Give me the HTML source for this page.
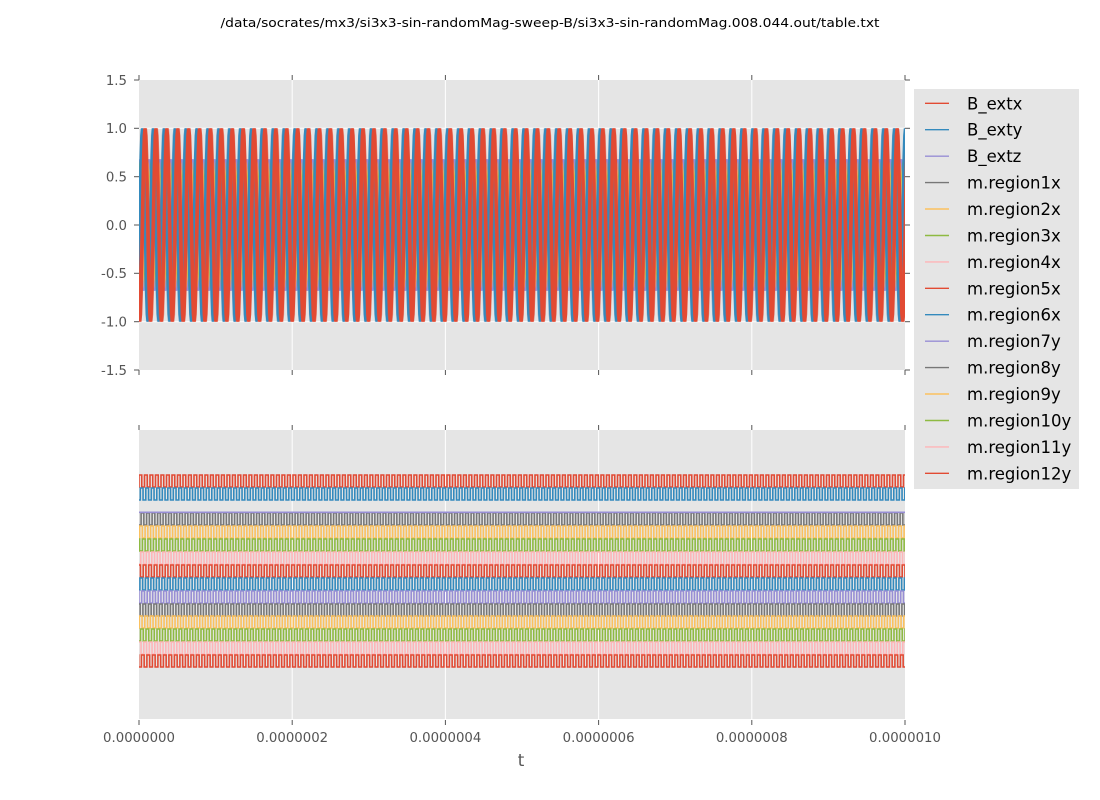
<!DOCTYPE html>
<html><head><meta charset="utf-8"><style>
html,body{margin:0;padding:0;background:#fff;}
svg{display:block;}
text{font-family:"DejaVu Sans","Liberation Sans",sans-serif;}
</style></head><body>
<svg width="1100" height="800" viewBox="0 0 1100 800" xmlns="http://www.w3.org/2000/svg">
<defs>
<path id="s1" d="M-10.9,225l.681,-37 .681,-31.4 .681,-20.9 .681,-7.4 .681,7.4 .681,20.9 .681,31.4 .681,37 .681,37 .681,31.4 .681,20.9 .681,7.4 .681,-7.4 .681,-20.9 .681,-31.4 .681,-37 .681,-37 .681,-31.4 .681,-20.9 .681,-7.4 .681,7.4 .681,20.9 .681,31.4 .681,37 .681,37 .681,31.4 .681,20.9 .681,7.4 .681,-7.4 .681,-20.9 .681,-31.4 .681,-37 .681,-37 .681,-31.4 .681,-20.9 .681,-7.4 .681,7.4 .681,20.9 .681,31.4 .681,37 .681,37 .681,31.4 .681,20.9 .681,7.4 .681,-7.4 .681,-20.9 .681,-31.4 .681,-37" fill="none"/>
<path id="s2" d="M-10.9,225l.681,-25.2 .681,-21.4 .681,-14.2 .681,-5 .681,5 .681,14.2 .681,21.4 .681,25.2 .681,25.2 .681,21.4 .681,14.2 .681,5 .681,-5 .681,-14.2 .681,-21.4 .681,-25.2 .681,-25.2 .681,-21.4 .681,-14.2 .681,-5 .681,5 .681,14.2 .681,21.4 .681,25.2 .681,25.2 .681,21.4 .681,14.2 .681,5 .681,-5 .681,-14.2 .681,-21.4 .681,-25.2 .681,-25.2 .681,-21.4 .681,-14.2 .681,-5 .681,5 .681,14.2 .681,21.4 .681,25.2 .681,25.2 .681,21.4 .681,14.2 .681,5 .681,-5 .681,-14.2 .681,-21.4 .681,-25.2" fill="none"/>
<pattern id="top" patternUnits="userSpaceOnUse" x="139" y="0" width="10.9" height="800">
<g fill="none" stroke-width="1.8">
<use href="#s2" stroke="#777777" transform="translate(1.1,0)"/>
<use href="#s2" stroke="#FBC15E" transform="translate(2.2,0)"/>
<use href="#s2" stroke="#8EBA42" transform="translate(4.4,0)"/>
<use href="#s2" stroke="#FFB5B8" transform="translate(6.5,0)"/>
<use href="#s2" stroke="#988ED5" transform="translate(7.6,0)"/>
<use href="#s2" stroke="#8EBA42" transform="translate(9.8,0)"/>
<use href="#s2" stroke="#FBC15E" transform="translate(5.5,0)"/>
<use href="#s1" stroke="#348ABD" stroke-width="1.9" transform="translate(0,0)"/>
<use href="#s1" stroke="#348ABD" stroke-width="1.9" transform="translate(0.8,0)"/>
<use href="#s1" stroke="#E24A33" stroke-width="1.9" transform="translate(2.5,0)"/>
<use href="#s1" stroke="#E24A33" stroke-width="1.9" transform="translate(3.4,0)"/>
<use href="#s1" stroke="#E24A33" stroke-width="1.9" transform="translate(4.3,0)"/>
</g>
</pattern>
<pattern id="bot" patternUnits="userSpaceOnUse" x="139" y="0" width="5.5" height="800">
<g fill="none" stroke-width="1.6">
<path stroke="#E24A33" transform="translate(0,0)" d="M-5.5,487V475h2.75V487h2.75V475h2.75V487h2.75V475h2.75V487h2.75"/>
<path stroke="#348ABD" transform="translate(1.3,0)" d="M-5.5,500V488h2.75V500h2.75V488h2.75V500h2.75V488h2.75V500h2.75"/>
<path stroke="#777777" transform="translate(2.1,0)" d="M-5.5,525V513h2.75V525h2.75V513h2.75V525h2.75V513h2.75V525h2.75"/>
<path stroke="#FBC15E" transform="translate(0.6,0)" d="M-5.5,538V526h2.75V538h2.75V526h2.75V538h2.75V526h2.75V538h2.75"/>
<path stroke="#8EBA42" transform="translate(3.4,0)" d="M-5.5,551V539h2.75V551h2.75V539h2.75V551h2.75V539h2.75V551h2.75"/>
<path stroke="#FFB5B8" transform="translate(1.8,0)" d="M-5.5,564V552h2.75V564h2.75V552h2.75V564h2.75V552h2.75V564h2.75"/>
<path stroke="#E24A33" transform="translate(4.2,0)" d="M-5.5,577V565h2.75V577h2.75V565h2.75V577h2.75V565h2.75V577h2.75"/>
<path stroke="#348ABD" transform="translate(0.9,0)" d="M-5.5,590V578h2.75V590h2.75V578h2.75V590h2.75V578h2.75V590h2.75"/>
<path stroke="#988ED5" transform="translate(2.7,0)" d="M-5.5,603V591h2.75V603h2.75V591h2.75V603h2.75V591h2.75V603h2.75"/>
<path stroke="#777777" transform="translate(3.9,0)" d="M-5.5,616V604h2.75V616h2.75V604h2.75V616h2.75V604h2.75V616h2.75"/>
<path stroke="#FBC15E" transform="translate(0.3,0)" d="M-5.5,628V616h2.75V628h2.75V616h2.75V628h2.75V616h2.75V628h2.75"/>
<path stroke="#8EBA42" transform="translate(1.5,0)" d="M-5.5,641V629h2.75V641h2.75V629h2.75V641h2.75V629h2.75V641h2.75"/>
<path stroke="#FFB5B8" transform="translate(4.8,0)" d="M-5.5,654V642h2.75V654h2.75V642h2.75V654h2.75V642h2.75V654h2.75"/>
<path stroke="#E24A33" transform="translate(2.4,0)" d="M-5.5,667V655h2.75V667h2.75V655h2.75V667h2.75V655h2.75V667h2.75"/>
</g>
</pattern>
</defs>

<!-- Title -->
<text x="550" y="27" font-size="12.5" text-anchor="middle" fill="#000" textLength="659" lengthAdjust="spacingAndGlyphs">/data/socrates/mx3/si3x3-sin-randomMag-sweep-B/si3x3-sin-randomMag.008.044.out/table.txt</text>

<!-- Top axes -->
<rect x="139" y="80" width="766" height="290" fill="#E5E5E5"/>
<g stroke="#fff" stroke-width="1">
<line x1="292.2" y1="80" x2="292.2" y2="370"/><line x1="445.4" y1="80" x2="445.4" y2="370"/>
<line x1="598.6" y1="80" x2="598.6" y2="370"/><line x1="751.8" y1="80" x2="751.8" y2="370"/>
<line x1="139" y1="128.3" x2="905" y2="128.3"/><line x1="139" y1="176.7" x2="905" y2="176.7"/>
<line x1="139" y1="225" x2="905" y2="225"/><line x1="139" y1="273.3" x2="905" y2="273.3"/>
<line x1="139" y1="321.7" x2="905" y2="321.7"/>
</g>
<rect x="139" y="118" width="766" height="214" fill="url(#top)"/>
<g stroke="#555" stroke-width="1">
<line x1="139" y1="75" x2="139" y2="80"/><line x1="292.2" y1="75" x2="292.2" y2="80"/><line x1="445.4" y1="75" x2="445.4" y2="80"/><line x1="598.6" y1="75" x2="598.6" y2="80"/><line x1="751.8" y1="75" x2="751.8" y2="80"/><line x1="905" y1="75" x2="905" y2="80"/>
<line x1="139" y1="370" x2="139" y2="375"/><line x1="292.2" y1="370" x2="292.2" y2="375"/><line x1="445.4" y1="370" x2="445.4" y2="375"/><line x1="598.6" y1="370" x2="598.6" y2="375"/><line x1="751.8" y1="370" x2="751.8" y2="375"/><line x1="905" y1="370" x2="905" y2="375"/>
<line x1="134" y1="80" x2="139" y2="80"/><line x1="134" y1="128.3" x2="139" y2="128.3"/><line x1="134" y1="176.7" x2="139" y2="176.7"/><line x1="134" y1="225" x2="139" y2="225"/><line x1="134" y1="273.3" x2="139" y2="273.3"/><line x1="134" y1="321.7" x2="139" y2="321.7"/><line x1="134" y1="370" x2="139" y2="370"/>
<line x1="905" y1="80" x2="910" y2="80"/><line x1="905" y1="128.3" x2="910" y2="128.3"/><line x1="905" y1="176.7" x2="910" y2="176.7"/><line x1="905" y1="225" x2="910" y2="225"/><line x1="905" y1="273.3" x2="910" y2="273.3"/><line x1="905" y1="321.7" x2="910" y2="321.7"/><line x1="905" y1="370" x2="910" y2="370"/>
</g>
<g font-size="13.3" fill="#555" text-anchor="end">
<text x="127" y="84.8">1.5</text>
<text x="127" y="133.1">1.0</text>
<text x="127" y="181.5">0.5</text>
<text x="127" y="229.8">0.0</text>
<text x="127" y="278.1">-0.5</text>
<text x="127" y="326.5">-1.0</text>
<text x="127" y="374.8">-1.5</text>
</g>

<!-- Bottom axes -->
<rect x="139" y="430" width="766" height="289" fill="#E5E5E5"/>
<g stroke="#fff" stroke-width="1">
<line x1="292.2" y1="430" x2="292.2" y2="719"/><line x1="445.4" y1="430" x2="445.4" y2="719"/>
<line x1="598.6" y1="430" x2="598.6" y2="719"/><line x1="751.8" y1="430" x2="751.8" y2="719"/>
</g>
<rect x="139" y="468" width="766" height="206" fill="url(#bot)"/>
<line x1="139" y1="512.3" x2="905" y2="512.3" stroke="#988ED5" stroke-width="1.6"/>
<g stroke="#555" stroke-width="1">
<line x1="139" y1="425" x2="139" y2="430"/><line x1="292.2" y1="425" x2="292.2" y2="430"/><line x1="445.4" y1="425" x2="445.4" y2="430"/><line x1="598.6" y1="425" x2="598.6" y2="430"/><line x1="751.8" y1="425" x2="751.8" y2="430"/><line x1="905" y1="425" x2="905" y2="430"/>
<line x1="139" y1="720" x2="139" y2="725"/><line x1="292.2" y1="720" x2="292.2" y2="725"/><line x1="445.4" y1="720" x2="445.4" y2="725"/><line x1="598.6" y1="720" x2="598.6" y2="725"/><line x1="751.8" y1="720" x2="751.8" y2="725"/><line x1="905" y1="720" x2="905" y2="725"/>
</g>
<g font-size="13.3" fill="#555" text-anchor="middle">
<text x="139" y="742">0.0000000</text>
<text x="292.2" y="742">0.0000002</text>
<text x="445.4" y="742">0.0000004</text>
<text x="598.6" y="742">0.0000006</text>
<text x="751.8" y="742">0.0000008</text>
<text x="905" y="742">0.0000010</text>
</g>
<text x="521" y="766" font-size="16.7" fill="#555" text-anchor="middle">t</text>

<!-- Legend -->
<rect x="914" y="89" width="165" height="400" fill="#E5E5E5"/>
<g stroke-width="1.4">
<line x1="925" y1="103.3" x2="949" y2="103.3" stroke="#E24A33"/>
<line x1="925" y1="129.7" x2="949" y2="129.7" stroke="#348ABD"/>
<line x1="925" y1="156.2" x2="949" y2="156.2" stroke="#988ED5"/>
<line x1="925" y1="182.6" x2="949" y2="182.6" stroke="#777777"/>
<line x1="925" y1="209.0" x2="949" y2="209.0" stroke="#FBC15E"/>
<line x1="925" y1="235.5" x2="949" y2="235.5" stroke="#8EBA42"/>
<line x1="925" y1="261.9" x2="949" y2="261.9" stroke="#FFB5B8"/>
<line x1="925" y1="288.3" x2="949" y2="288.3" stroke="#E24A33"/>
<line x1="925" y1="314.7" x2="949" y2="314.7" stroke="#348ABD"/>
<line x1="925" y1="341.2" x2="949" y2="341.2" stroke="#988ED5"/>
<line x1="925" y1="367.6" x2="949" y2="367.6" stroke="#777777"/>
<line x1="925" y1="394.0" x2="949" y2="394.0" stroke="#FBC15E"/>
<line x1="925" y1="420.5" x2="949" y2="420.5" stroke="#8EBA42"/>
<line x1="925" y1="446.9" x2="949" y2="446.9" stroke="#FFB5B8"/>
<line x1="925" y1="473.3" x2="949" y2="473.3" stroke="#E24A33"/>
</g>
<g font-size="16.5" fill="#000">
<text x="967" y="109.3">B_extx</text>
<text x="967" y="135.7">B_exty</text>
<text x="967" y="162.2">B_extz</text>
<text x="967" y="188.6">m.region1x</text>
<text x="967" y="215.0">m.region2x</text>
<text x="967" y="241.5">m.region3x</text>
<text x="967" y="267.9">m.region4x</text>
<text x="967" y="294.3">m.region5x</text>
<text x="967" y="320.7">m.region6x</text>
<text x="967" y="347.2">m.region7y</text>
<text x="967" y="373.6">m.region8y</text>
<text x="967" y="400.0">m.region9y</text>
<text x="967" y="426.5">m.region10y</text>
<text x="967" y="452.9">m.region11y</text>
<text x="967" y="479.3">m.region12y</text>
</g>
</svg>
</body></html>
